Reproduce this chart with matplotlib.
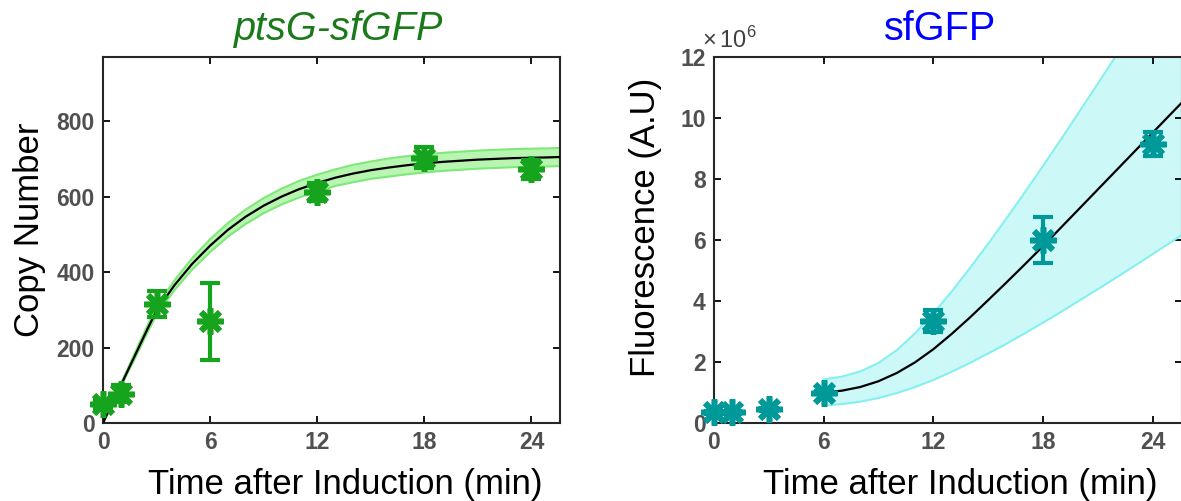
import numpy as np
import matplotlib; matplotlib.use("Agg")
import matplotlib.pyplot as plt
from matplotlib.ticker import FuncFormatter

plt.rcParams["font.family"] = ["Liberation Sans", "DejaVu Sans"]
plt.rcParams["mathtext.fontset"] = "custom"
plt.rcParams["mathtext.rm"] = "Liberation Sans"

# ---- measured points -------------------------------------------------------
t_pts = [0, 1, 3, 6, 12, 18, 24]

copy_num = [50, 78, 315, 270, 613, 703, 672]
copy_err = [12, 22, 35, 102, 24, 28, 25]

fluo = [0.35, 0.35, 0.45, 0.99, 3.35, 6.0, 9.15]          # x 1e6
fluo_err = [0.05, 0.05, 0.05, 0.05, 0.35, 0.77, 0.38]

# ---- fitted curves + confidence bands -------------------------------------
t_fit_g = [0, 0.5, 1, 1.5, 2, 2.5, 3, 4, 5, 6, 7, 8, 9, 10, 11, 12, 13, 14,
           15, 16, 17, 18, 19, 20, 21, 22, 23, 24, 25, 25.6]
fit_g = [0, 50, 100, 150, 200, 250, 298, 365, 422, 470, 512, 547, 576, 600,
         620, 636, 650, 661, 670, 677, 683, 688, 692, 695, 698, 700, 702, 703,
         704, 705]
fit_g_hi = [0, 52, 104, 156, 208, 259, 309, 378, 437, 487, 530, 566, 596, 621,
            642, 658, 672, 684, 693, 701, 707, 712, 716, 719, 722, 724, 726,
            727, 728, 729]
fit_g_lo = [0, 48, 96, 144, 192, 241, 287, 352, 407, 453, 494, 528, 556, 579,
            598, 614, 628, 638, 647, 653, 659, 664, 668, 671, 674, 676, 678,
            679, 680, 681]

t_fit_f = [6, 7, 8, 9, 10, 11, 12, 13, 14, 15, 16, 17, 18, 19, 20, 21, 22,
           23, 24, 25, 25.6]
fit_f = [1.0, 1.06, 1.18, 1.37, 1.64, 1.99, 2.42, 2.92, 3.46, 4.03, 4.61,
         5.2, 5.8, 6.42, 7.04, 7.66, 8.28, 8.9, 9.52, 10.14, 10.51]
fit_f_hi = [1.43, 1.52, 1.69, 1.97, 2.39, 2.94, 3.59, 4.31, 5.08, 5.88, 6.71,
            7.56, 8.43, 9.32, 10.22, 11.13, 12.05, 12.98, 13.9, 14.83, 15.4]
fit_f_lo = [0.57, 0.62, 0.7, 0.82, 0.98, 1.18, 1.41, 1.68, 1.97, 2.28, 2.6,
            2.94, 3.29, 3.65, 4.02, 4.39, 4.77, 5.15, 5.54, 5.93, 6.17]

TICK_GRAY = "#505050"

fig = plt.figure(figsize=(11.81, 5.01), dpi=100)
axL = fig.add_axes([103 / 1181, 78 / 501, 457 / 1181, 366 / 501])
axR = fig.add_axes([714 / 1181, 78 / 501, 468 / 1181, 366 / 501])


def style(ax, xlab_x):
    ax.tick_params(direction="in", length=5, width=1.3, top=True, right=True,
                   labelsize=16.5, labelcolor=TICK_GRAY, pad=6)
    for lab in ax.get_xticklabels() + ax.get_yticklabels():
        lab.set_fontweight("bold")
    for s in ax.spines.values():
        s.set_linewidth(1.5)
        s.set_color("#262626")
    ax.set_xlim(0, 25.6)
    ax.set_xticks([0, 6, 12, 18, 24])
    ax.set_xlabel("Time after Induction (min)", fontsize=25)
    ax.xaxis.set_label_coords(xlab_x, -0.123, transform=ax.transAxes)
    ax.xaxis.label.set_va("top")


# left: ptsG-sfGFP copy number
axL.fill_between(t_fit_g, fit_g_lo, fit_g_hi, color="#b8f5b0", lw=0, zorder=1)
axL.plot(t_fit_g, fit_g_hi, color="#7fe87a", lw=1.5, zorder=2)
axL.plot(t_fit_g, fit_g_lo, color="#7fe87a", lw=1.5, zorder=2)
axL.plot(t_fit_g, fit_g, color="black", lw=1.6, zorder=3)
axL.errorbar(t_pts, copy_num, yerr=copy_err, fmt="none", ecolor="#16a31e",
             elinewidth=3, capsize=7, capthick=3, zorder=4, clip_on=False)
axL.plot(t_pts, copy_num, ls="none", marker=(8, 2, 0), ms=19, mew=4,
         color="#16a31e", zorder=5, clip_on=False)
axL.set_ylim(0, 970)
axL.set_yticks([0, 200, 400, 600, 800])
axL.set_ylabel("Copy Number", fontsize=25)
axL.yaxis.set_label_coords(-0.125, 0.527)
axL.set_title("ptsG-sfGFP", fontsize=28.5, style="italic", color="#1a7a1a",
              pad=12, x=0.516)
style(axL, 0.53)

# right: sfGFP fluorescence (plotted in units of 1e6)
axR.fill_between(t_fit_f, fit_f_lo, fit_f_hi, color="#cdf8f8", lw=0, zorder=1)
axR.plot(t_fit_f, fit_f_hi, color="#86f0f0", lw=1.5, zorder=2)
axR.plot(t_fit_f, fit_f_lo, color="#86f0f0", lw=1.5, zorder=2)
axR.plot(t_fit_f, fit_f, color="black", lw=1.6, zorder=3)
axR.errorbar(t_pts, fluo, yerr=fluo_err, fmt="none", ecolor="#009999",
             elinewidth=3, capsize=7, capthick=3, zorder=4, clip_on=False)
axR.plot(t_pts, fluo, ls="none", marker=(8, 2, 0), ms=19, mew=4,
         color="#009999", zorder=5, clip_on=False)
axR.set_ylim(0, 12)
axR.set_yticks(np.arange(0, 13, 2))
axR.yaxis.set_major_formatter(FuncFormatter(lambda v, p: f"{v:g}"))
axR.set_ylabel("Fluorescence (A.U)", fontsize=25)
axR.yaxis.set_label_coords(-0.111, 0.535)
axR.set_title("sfGFP", fontsize=28.5, color="#0000ff", pad=12, x=0.483)
style(axR, 0.526)
axR.text(-0.025, 1.025, r"$\times\,10^{6}$", transform=axR.transAxes,
         fontsize=17, color="#404040", ha="left", va="baseline")

fig.savefig("out.png", dpi=100)
